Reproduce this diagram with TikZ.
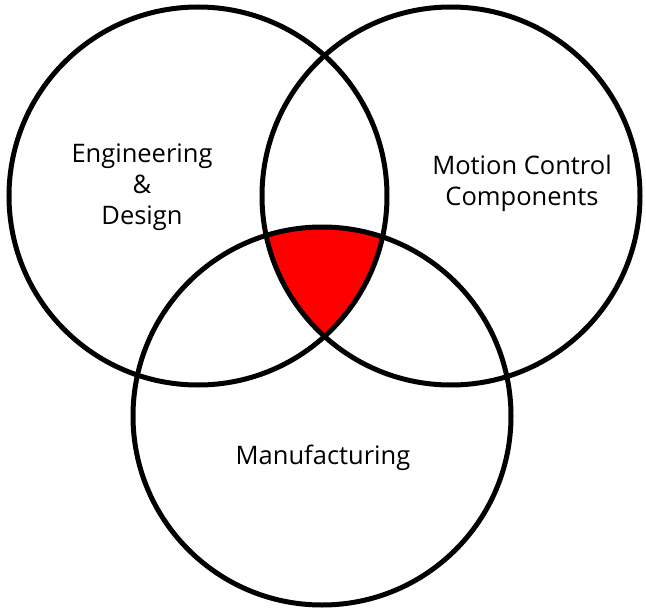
\documentclass[tikz,border=0pt]{standalone}
\usepackage{fontspec}
\setmainfont{Open Sans}

\begin{document}
\begin{tikzpicture}[x=1pt, y=-1pt,
    ring/.style={draw=black, line width=5pt},
    caption/.style={align=center, font=\fontsize{25.5}{31}\selectfont}]
  \useasboundingbox (0,0) rectangle (646,613);

  \coordinate (L) at (198,196);
  \coordinate (R) at (451,196);
  \coordinate (B) at (322,416);

  % common part of all three
  \begin{scope}
    \clip (L) circle (189pt);
    \clip (R) circle (189pt);
    \fill [red] (B) circle (189pt);
  \end{scope}

  \draw [ring] (L) circle (189pt);
  \draw [ring] (R) circle (189pt);
  \draw [ring] (B) circle (189pt);

  \node (eng) [caption] at (142,187) {Engineering\\\&\\Design};
  \node (mcc) [caption] at (522,183) {Motion Control\\Components};
  \node (mfg) [caption] at (323,458) {Manufacturing};
\end{tikzpicture}
\end{document}
